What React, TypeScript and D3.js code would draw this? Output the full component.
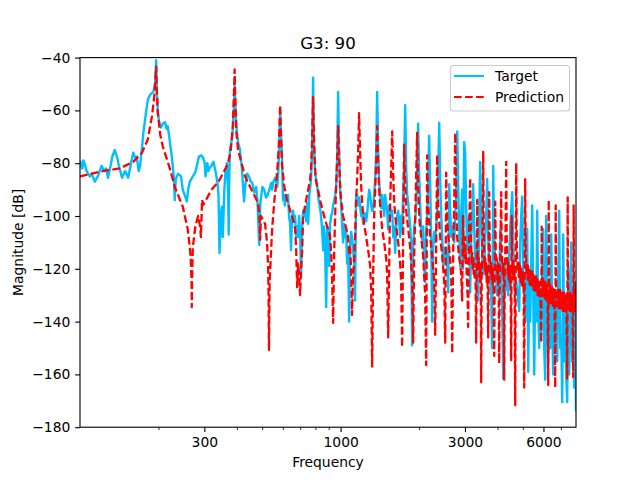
import React, { useEffect, useRef } from 'react'
import * as d3 from 'd3'

// values: [frequency in Hz, magnitude in dB]
const targetPoints: [number, number][] = [
  [100, -79], [101, -81], [102, -82], [103, -79], [104, -80], [106, -83], [109, -85], [111, -84], [114, -87], [117, -85], [119, -83], [121, -81], [124, -83], [126, -82], [128, -85.5],
  [131, -81], [133, -77.5], [136, -75], [139, -78], [141, -81], [145, -85.5], [149, -83], [153, -85.5], [157, -80], [160, -76], [163, -78], [165, -77.5], [168, -83], [170, -81],
  [173, -74], [175, -68.5], [179, -61], [182, -56], [186, -54], [191, -53], [193, -51], [194, -50], [196, -41], [197, -52], [199, -61], [201, -64], [204, -66.5], [208, -65], [212, -64.5],
  [215, -67], [217, -66], [220, -70], [225, -77.5], [229, -85], [231, -94], [233, -86], [238, -84], [244, -85], [248, -90], [252, -92], [257, -94.5], [260, -90], [264, -87], [271, -85], [277, -83.5],
  [286, -77.5], [292, -77], [297, -78], [301, -80], [303, -85], [308, -80], [311, -83], [314, -82], [319, -81], [325, -79.5], [331, -83], [337, -87.5], [340, -92], [343, -114],
  [347, -100], [350, -96.5], [353, -108], [358, -90], [362, -82.5], [366, -80], [370, -90], [372, -107], [374, -85], [376, -75], [384, -70], [389, -60], [392, -50], [395, -60], [398, -66], [404, -72],
  [411, -75], [418, -82], [426, -94.5], [431, -88], [438, -84], [445, -85], [452, -87], [458, -87.5], [466, -91], [474, -89], [480, -95], [487, -111], [492, -95], [501, -89], [509, -90], [517, -93], [525, -92],
  [533, -90], [541, -87.5], [546, -90], [552, -87], [561, -85.5], [571, -89], [576, -84], [581, -75], [586, -60], [591, -70], [596, -78], [601, -94], [606, -92],
  [611, -96], [617, -92], [623, -94], [628, -92], [634, -100], [640, -103], [645, -113], [651, -100], [657, -98], [663, -102], [669, -100], [675, -108], [681, -104], [687, -108], [693, -100],
  [699, -107], [705, -123], [712, -104], [718, -98], [725, -100], [731, -97], [738, -102], [744, -95], [751, -103], [758, -92], [763, -90], [770, -86], [777, -76], [784, -47.6], [791, -74],
  [798, -84], [805, -86], [812, -88], [819, -92], [826, -95], [834, -97], [841, -100], [849, -105], [857, -113], [864, -104], [872, -112], [880, -134.5], [888, -104], [896, -108], [904, -119],
  [911, -103], [920, -100], [928, -99], [936, -96], [945, -94], [954, -92], [962, -88], [970, -78], [978, -53], [987, -76], [995, -90], [1004, -95], [1013, -103], [1022, -110], [1031, -103],
  [1040, -108], [1050, -106], [1059, -118], [1068, -112], [1078, -140], [1087, -112], [1097, -106], [1106, -108], [1116, -112], [1126, -118], [1136, -132], [1146, -92], [1157, -92], [1167, -96], [1177, -93],
  [1188, -96], [1198, -100], [1209, -98], [1220, -103], [1231, -100], [1242, -99], [1253, -102], [1265, -99], [1276, -94], [1287, -90], [1298, -92], [1310, -96], [1321, -98], [1333, -97], [1345, -92],
  [1357, -86], [1369, -76], [1381, -53], [1393, -75], [1406, -88], [1418, -91], [1431, -97], [1444, -92], [1456, -96], [1469, -100], [1482, -92], [1495, -95], [1508, -98], [1522, -105], [1535, -96],
  [1549, -97], [1563, -100], [1577, -98], [1591, -108], [1605, -104], [1619, -114], [1634, -104], [1648, -100], [1663, -98], [1677, -102], [1692, -108], [1707, -100], [1722, -106], [1737, -92], [1753, -80],
  [1769, -58], [1785, -82], [1801, -92], [1817, -95], [1833, -100], [1849, -104], [1865, -110], [1881, -149], [1898, -112], [1915, -104], [1932, -102], [1949, -96], [1966, -85], [1983, -65], [2001, -84],
  [2019, -96], [2037, -105], [2055, -109], [2073, -104], [2092, -118], [2110, -125], [2129, -106], [2148, -100], [2167, -86], [2186, -69.6], [2206, -88], [2225, -108], [2245, -140], [2265, -112], [2285, -106],
  [2306, -110], [2326, -104], [2347, -98], [2368, -84], [2389, -64.7], [2410, -86], [2432, -100], [2453, -108], [2475, -119], [2497, -112], [2519, -116], [2541, -112], [2564, -118], [2587, -129], [2610, -88],
  [2633, -98], [2657, -108], [2680, -104], [2704, -108], [2728, -110], [2753, -100], [2777, -90], [2802, -68], [2827, -90], [2852, -105], [2875, -119], [2900, -100], [2926, -90], [2950, -120], [2977, -72],
  [3005, -76], [3030, -95], [3055, -113], [3085, -105], [3113, -100], [3141, -129], [3170, -108], [3198, -100], [3225, -88], [3255, -105], [3285, -118], [3312, -112], [3342, -125], [3372, -132], [3402, -100],
  [3431, -79.5], [3462, -100], [3493, -115], [3524, -122], [3555, -120], [3587, -108], [3619, -100], [3650, -86], [3684, -108], [3716, -118], [3748, -125], [3782, -130], [3815, -150], [3850, -81], [3885, -110],
  [3920, -118], [3955, -124], [3990, -130], [4025, -118], [4060, -128], [4095, -105], [4131, -122], [4168, -135], [4205, -161.5], [4242, -125], [4280, -118], [4318, -128], [4356, -122], [4395, -130], [4434, -115],
  [4473, -105], [4513, -98], [4553, -91], [4593, -110], [4634, -122], [4675, -130], [4717, -125], [4759, -128], [4801, -132], [4844, -136], [4886, -110], [4930, -100], [4974, -92.7], [5018, -120], [5062, -128],
  [5107, -140], [5153, -125], [5199, -105], [5245, -159], [5291, -125], [5338, -140], [5385, -118], [5433, -96], [5482, -128], [5530, -160], [5579, -125], [5629, -140], [5679, -98], [5729, -135], [5780, -150],
  [5831, -128], [5883, -145], [5935, -120], [5988, -105], [6041, -150], [6095, -162], [6149, -100], [6204, -135], [6259, -155], [6314, -130], [6370, -150], [6426, -107], [6483, -140], [6541, -160], [6599, -128],
  [6658, -148], [6717, -130], [6776, -155], [6836, -125], [6897, -98], [6958, -150], [7020, -145], [7082, -170.5], [7145, -107], [7208, -155], [7272, -130], [7336, -160], [7401, -170.5], [7467, -120], [7533, -160],
  [7600, -135], [7667, -110], [7735, -155], [7803, -130], [7872, -165], [7942, -125], [8000, -174],
]

const predictionPoints: [number, number][] = [
  [100, -85], [122, -83], [142, -82], [160, -79.5], [173, -76], [182, -71], [189, -62], [193, -54], [196, -43.4], [197, -52], [199, -61], [203, -69], [208, -73.8], [222, -82.5], [231, -89], [248, -96.5],
  [259, -105], [264, -112], [266, -116.6], [268, -125], [268.5, -134.5], [269, -125], [271, -111.7], [277, -104], [284, -100], [289, -104], [291, -108], [294, -93.9], [297, -95.8], [320, -90], [340, -87], [368, -80.6],
  [378, -76], [386, -66], [390, -52], [392, -44.5], [394, -54], [398, -68], [404, -75], [430, -85], [460, -91], [482, -95], [488, -100], [491, -109], [495, -100], [513, -103], [522, -110], [527, -119], [529, -130], [531, -150.8],
  [534, -125], [546, -105], [557, -94], [566, -87.5], [574, -80], [578, -75], [583, -66], [586, -58], [591, -70], [596, -81], [601, -84], [606, -88], [611, -90], [617, -92], [623, -94], [628, -95],
  [640, -98], [651, -100], [663, -103], [669, -105], [675, -112], [681, -127], [687, -118], [693, -122], [699, -130], [705, -120], [712, -113], [718, -100], [731, -96], [744, -92], [758, -88],
  [763, -87], [770, -82], [777, -72], [784, -55], [791, -72], [798, -82], [805, -87], [819, -90], [834, -94], [849, -97], [872, -101.5], [888, -104], [904, -106], [911, -108], [920, -114],
  [928, -125], [936, -140.5], [945, -113], [954, -98], [962, -88], [970, -78], [978, -66], [987, -78], [995, -88], [1004, -94], [1022, -100], [1040, -103], [1059, -106], [1068, -108], [1078, -114],
  [1087, -112], [1097, -120], [1106, -137.5], [1116, -122], [1126, -118], [1136, -108], [1146, -95], [1157, -86], [1167, -76], [1177, -61], [1188, -76], [1198, -88], [1209, -95], [1231, -103], [1253, -108],
  [1276, -113], [1287, -116], [1298, -119], [1310, -128], [1321, -157], [1333, -122], [1345, -100], [1357, -90], [1369, -80], [1381, -66], [1393, -80], [1406, -90], [1418, -96], [1444, -105], [1469, -110],
  [1495, -116], [1508, -122], [1522, -146], [1535, -120], [1549, -95], [1563, -82], [1577, -68], [1591, -84], [1605, -95], [1634, -104], [1663, -110], [1692, -118], [1707, -125], [1722, -149.7], [1737, -108],
  [1753, -73], [1769, -88], [1785, -98], [1817, -105], [1849, -112], [1865, -118], [1881, -125], [1898, -148], [1915, -115], [1932, -100], [1949, -85], [1966, -68.5], [1983, -88], [2001, -100], [2037, -108],
  [2073, -115], [2110, -130], [2129, -156.5], [2148, -77], [2167, -96], [2206, -108], [2245, -115], [2285, -125], [2306, -145], [2326, -110], [2347, -76.8], [2368, -96], [2410, -108], [2453, -115], [2497, -125],
  [2519, -148], [2541, -83.6], [2564, -102], [2610, -112], [2657, -122], [2680, -152], [2704, -112], [2728, -95], [2753, -68.5], [2777, -95], [2800, -108], [2827, -112], [2850, -116], [2875, -118], [2900, -122],
  [2926, -132], [2938, -112], [2950, -100], [2964, -114], [2977, -110], [2990, -116], [3005, -108], [3018, -118], [3030, -114], [3043, -120], [3055, -125], [3070, -130], [3085, -142], [3100, -118], [3113, -104],
  [3127, -95], [3141, -85.6], [3155, -105], [3170, -112], [3184, -118], [3198, -114], [3212, -120], [3225, -116], [3240, -122], [3255, -118], [3270, -124], [3285, -120], [3298, -128], [3312, -148], [3327, -118],
  [3342, -93.9], [3357, -114], [3372, -120], [3387, -116], [3402, -123], [3417, -118], [3431, -125], [3447, -120], [3462, -163], [3478, -122], [3493, -116], [3508, -100], [3524, -75.7], [3540, -104], [3555, -114],
  [3571, -120], [3587, -116], [3603, -123], [3619, -118], [3635, -125], [3650, -120], [3667, -128], [3684, -146], [3700, -112], [3716, -91], [3732, -112], [3748, -118], [3765, -122], [3782, -117], [3798, -124],
  [3815, -119], [3832, -126], [3850, -121], [3867, -130], [3885, -153], [3902, -118], [3920, -94.6], [3937, -114], [3955, -120], [3972, -116], [3990, -124], [4007, -118], [4025, -126], [4042, -130], [4060, -155.8],
  [4078, -120], [4095, -116], [4113, -105], [4131, -91], [4150, -112], [4168, -118], [4187, -122], [4205, -117], [4224, -128], [4242, -162], [4261, -122], [4280, -116], [4299, -100], [4318, -79.5], [4337, -108],
  [4356, -116], [4375, -122], [4395, -117], [4415, -124], [4434, -118], [4453, -125], [4473, -120], [4493, -130], [4513, -154.6], [4533, -100], [4553, -116], [4573, -122], [4593, -117], [4613, -124], [4634, -119],
  [4655, -128], [4675, -171.7], [4696, -120], [4717, -80], [4738, -110], [4759, -116], [4780, -121], [4801, -117], [4822, -123], [4844, -118], [4865, -124], [4886, -119], [4908, -125], [4930, -120], [4952, -126],
  [4974, -121], [4996, -127], [5018, -122], [5040, -130], [5062, -165], [5085, -120], [5107, -86], [5130, -114], [5153, -118], [5176, -122], [5199, -118], [5222, -124], [5245, -119], [5268, -125], [5291, -120],
  [5315, -126], [5338, -120], [5362, -126], [5385, -121], [5409, -127], [5433, -121], [5457, -127], [5482, -122], [5506, -128], [5530, -122], [5555, -128], [5579, -123], [5604, -129], [5629, -123], [5654, -129],
  [5679, -124], [5704, -130], [5729, -124], [5755, -130], [5780, -125], [5806, -131], [5831, -125], [5857, -134], [5883, -148], [5909, -104], [5922, -122], [5935, -126], [5962, -130], [5988, -124], [6015, -131],
  [6041, -125], [6068, -131], [6095, -125], [6122, -132], [6149, -126], [6177, -132], [6204, -126], [6232, -136], [6259, -164], [6287, -94], [6300, -120], [6314, -126], [6342, -132], [6370, -126], [6398, -133],
  [6426, -127], [6455, -133], [6483, -127], [6512, -134], [6541, -127], [6570, -134], [6599, -128], [6629, -140], [6658, -165], [6688, -96], [6702, -122], [6717, -127], [6746, -134], [6776, -128], [6806, -134],
  [6836, -128], [6866, -135], [6897, -128], [6927, -135], [6958, -128], [6989, -135], [7020, -129], [7051, -135], [7082, -129], [7113, -136], [7145, -129], [7176, -136], [7208, -129], [7240, -136], [7272, -130],
  [7304, -136], [7336, -130], [7368, -142], [7401, -162], [7434, -93], [7450, -122], [7467, -128], [7500, -135], [7533, -129], [7567, -136], [7600, -129], [7633, -136], [7667, -130], [7701, -136], [7735, -130],
  [7769, -142], [7803, -161], [7837, -96], [7855, -122], [7872, -129], [7907, -136], [7942, -128], [7971, -135], [8000, -128],
]

const yTicks = [-40, -60, -80, -100, -120, -140, -160, -180]
const xMajorTicks = [300, 1000, 3000, 6000]
const xMinorTicks = [200, 400, 500, 600, 700, 800, 900, 2000, 4000, 5000, 7000]

const width = 640
const height = 480
const margin = { top: 57.6, right: 64, bottom: 52.8, left: 80 }

function formatDb(d: number) {
  return d < 0 ? `\u2212${Math.abs(d)}` : `${d}`
}

export default function App() {
  const svgRef = useRef<SVGSVGElement>(null)

  useEffect(() => {
    if (!svgRef.current) return

    const svg = d3.select(svgRef.current)
    svg.selectAll('*').remove()
    svg.style('font-family', '"DejaVu Sans"')

    const xScale = d3.scaleLog().domain([100, 8000]).range([margin.left, width - margin.right])
    const yScale = d3.scaleLinear().domain([-180, -40]).range([height - margin.bottom, margin.top])

    svg.append('rect').attr('width', width).attr('height', height).attr('fill', '#fff')

    svg.append('clipPath').attr('id', 'plot-area')
      .append('rect')
      .attr('x', margin.left)
      .attr('y', margin.top)
      .attr('width', width - margin.left - margin.right)
      .attr('height', height - margin.top - margin.bottom)

    const line = d3.line<[number, number]>()
      .x(d => xScale(d[0]))
      .y(d => yScale(d[1]))

    svg.append('path')
      .datum(targetPoints)
      .attr('clip-path', 'url(#plot-area)')
      .attr('fill', 'none')
      .attr('stroke', '#00bfff')
      .attr('stroke-width', 2.4)
      .attr('stroke-linejoin', 'round')
      .attr('d', line)

    svg.append('path')
      .datum(predictionPoints)
      .attr('clip-path', 'url(#plot-area)')
      .attr('fill', 'none')
      .attr('stroke', '#ff0000')
      .attr('stroke-width', 2.3)
      .attr('stroke-linejoin', 'round')
      .attr('stroke-dasharray', '7.7,3.33')
      .attr('d', line)

    // Axes
    const xAxis = svg.append('g')
      .attr('transform', `translate(0,${height - margin.bottom})`)
      .call(d3.axisBottom(xScale).tickValues(xMajorTicks).tickFormat(d => `${d}`).tickSize(4.86).tickPadding(4.86))

    svg.append('g')
      .attr('transform', `translate(0,${height - margin.bottom})`)
      .call(d3.axisBottom(xScale).tickValues(xMinorTicks).tickFormat(() => '').tickSize(2.78))
      .call(g => g.select('.domain').remove())
      .selectAll('line')
      .attr('stroke-width', 0.83)

    const yAxis = svg.append('g')
      .attr('transform', `translate(${margin.left},0)`)
      .call(d3.axisLeft(yScale).tickValues(yTicks).tickFormat(d => formatDb(d as number)).tickSize(4.86).tickPadding(4.86))

    for (const axis of [xAxis, yAxis]) {
      axis.selectAll('text').attr('fill', '#000').style('font-size', '13.89px').style('font-family', '"DejaVu Sans"')
      axis.selectAll('line').attr('stroke', '#000').attr('stroke-width', 1.11)
      axis.select('.domain').remove()
    }

    svg.append('rect')
      .attr('x', margin.left)
      .attr('y', margin.top)
      .attr('width', width - margin.left - margin.right)
      .attr('height', height - margin.top - margin.bottom)
      .attr('fill', 'none')
      .attr('stroke', '#000')
      .attr('stroke-width', 1.11)

    // Labels
    svg.append('text')
      .attr('x', (margin.left + width - margin.right) / 2)
      .attr('y', 49)
      .attr('text-anchor', 'middle')
      .style('font-size', '16.67px')
      .text('G3: 90')

    svg.append('text')
      .attr('x', (margin.left + width - margin.right) / 2)
      .attr('y', 467)
      .attr('text-anchor', 'middle')
      .style('font-size', '13.89px')
      .text('Frequency')

    svg.append('text')
      .attr('transform', `translate(23,${(margin.top + height - margin.bottom) / 2}) rotate(-90)`)
      .attr('text-anchor', 'middle')
      .style('font-size', '13.89px')
      .text('Magnitude [dB]')

    // Legend
    const legend = svg.append('g')
    legend.append('rect')
      .attr('x', 450.5)
      .attr('y', 65.5)
      .attr('width', 119)
      .attr('height', 45.5)
      .attr('rx', 3)
      .attr('fill', '#fff')
      .attr('fill-opacity', 0.8)
      .attr('stroke', '#ccc')
      .attr('stroke-width', 1.11)

    const legendItems = [
      { label: 'Target', color: '#00bfff', dash: null, y: 76 },
      { label: 'Prediction', color: '#ff0000', dash: '7.7,3.33', y: 97 },
    ]
    for (const item of legendItems) {
      legend.append('line')
        .attr('x1', 454)
        .attr('x2', 484)
        .attr('y1', item.y)
        .attr('y2', item.y)
        .attr('stroke', item.color)
        .attr('stroke-width', 2.08)
        .attr('stroke-dasharray', item.dash)
      legend.append('text')
        .attr('x', 495)
        .attr('y', item.y + 5)
        .style('font-size', '13.89px')
        .text(item.label)
    }
  }, [])

  return <svg ref={svgRef} width={width} height={height} style={{ position: 'absolute', left: 0, top: 0 }} />
}
